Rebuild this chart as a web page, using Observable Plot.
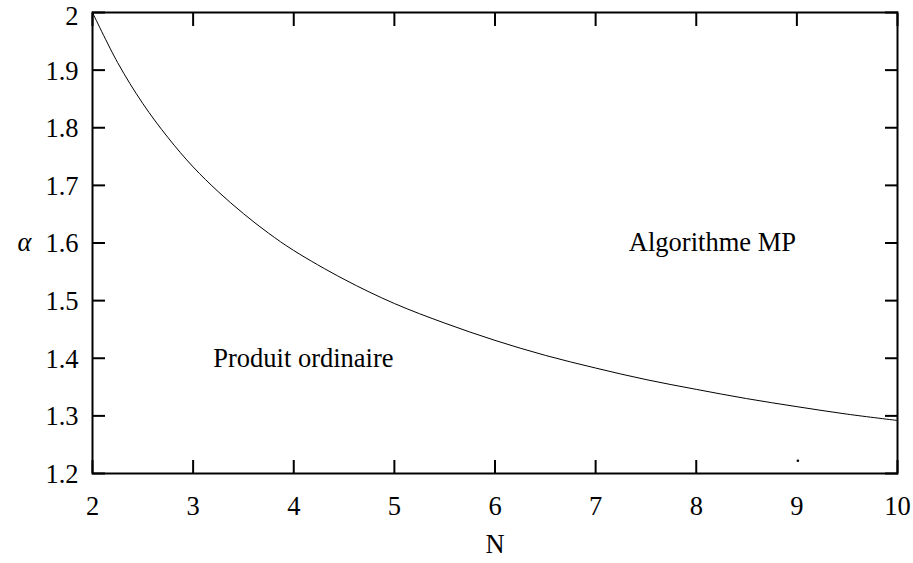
<!DOCTYPE html>
<html>
<head>
<meta charset="utf-8">
<script src="https://cdn.jsdelivr.net/npm/d3@7"></script>
<script src="https://cdn.jsdelivr.net/npm/@observablehq/plot@0.6"></script>
<style>
  html, body { margin: 0; padding: 0; background: #fff; }
  #chart svg { display: block; }
</style>
</head>
<body>
<div id="chart"></div>
<script>
// Curve: boundary alpha(N)
const curveN     = [2, 2.25, 2.5, 2.75, 3, 3.25, 3.5, 3.75, 4, 4.5, 5, 5.5, 6, 6.5, 7, 7.5, 8, 8.5, 9, 9.5, 10];
const curveAlpha = [2.000, 1.913, 1.842, 1.783, 1.732, 1.689, 1.651, 1.617, 1.587, 1.537, 1.495, 1.461, 1.431, 1.405, 1.383, 1.363, 1.346, 1.330, 1.316, 1.303, 1.292];
// Stray dot (where the bottom tick at N=9 would end)
const dotN = [9.01];
const dotAlpha = [1.222];
// Region labels
const labelText = ["Produit ordinaire", "Algorithme MP"];
const labelN = [3.2, 7.33];
const labelAlpha = [1.4, 1.6];
// Ticks
const xTicks = [2, 3, 4, 5, 6, 7, 8, 9, 10];
const xTicksBottom = [2, 3, 4, 5, 6, 7, 8, 10]; // the reference has no bottom tick at 9
const yTicks = [1.2, 1.3, 1.4, 1.5, 1.6, 1.7, 1.8, 1.9, 2];
const yTickLabels = ["1.2", "1.3", "1.4", "1.5", "1.6", "1.7", "1.8", "1.9", "2"];

const curve = curveN.map((n, i) => ({n, a: curveAlpha[i]}));
const dots = dotN.map((n, i) => ({n, a: dotAlpha[i]}));
const labels = labelText.map((t, i) => ({t, n: labelN[i], a: labelAlpha[i]}));
const fmtY = (d) => yTickLabels[yTicks.indexOf(d)];
const yTop = yTicks[yTicks.length - 1];
const yRest = yTicks.slice(0, -1);

const FONT = "'Liberation Serif', 'Times New Roman', serif";
const FS = 26.5;

const chart = Plot.plot({
  width: 913,
  height: 563,
  marginLeft: 92,
  marginRight: 16,
  marginTop: 12,
  marginBottom: 90,
  style: {fontFamily: FONT, background: "#fff", color: "#000"},
  x: {domain: [2, 10]},
  y: {domain: [1.2, 2]},
  marks: [
    Plot.line(curve, {x: "n", y: "a", stroke: "#000", strokeWidth: 1, curve: "catmull-rom"}),
    Plot.dot(dots, {x: "n", y: "a", r: 1.3, fill: "#000", stroke: null}),
    Plot.text(labels, {x: "n", y: "a", text: "t", textAnchor: "start", fontSize: FS, fontFamily: FONT, fill: "#000"}),
    // inward ticks on all four sides
    Plot.axisX(xTicksBottom, {anchor: "bottom", tickSize: -13, text: null, strokeWidth: 2, label: null}),
    Plot.axisX(xTicks, {anchor: "top", tickSize: -13, text: null, strokeWidth: 2, label: null}),
    Plot.axisY(yTicks, {anchor: "left", tickSize: -13, text: null, strokeWidth: 2, label: null}),
    Plot.axisY(yTicks, {anchor: "right", tickSize: -13, text: null, strokeWidth: 2, label: null}),
    // tick labels
    Plot.axisX(xTicks, {anchor: "bottom", tickSize: 0, tickPadding: 23, fontSize: FS, fontFamily: FONT, label: null}),
    Plot.axisY(yRest, {anchor: "left", tickSize: 0, tickPadding: 14, dy: 1, fontSize: FS, fontFamily: FONT, label: null, tickFormat: fmtY}),
    Plot.axisY([yTop], {anchor: "left", tickSize: 0, tickPadding: 14, dy: 4, fontSize: FS, fontFamily: FONT, label: null, tickFormat: fmtY}),
    // axis titles
    Plot.text(["N"], {frameAnchor: "bottom", dy: 71, fontSize: FS, fontFamily: FONT, fill: "#000", lineAnchor: "middle"}),
    Plot.text(["α"], {frameAnchor: "left", dx: -75, fontSize: FS, fontFamily: FONT, fontStyle: "italic", fill: "#000"}),
    Plot.frame({stroke: "#000", strokeWidth: 2})
  ]
});
document.getElementById("chart").appendChild(chart);
</script>
</body>
</html>
